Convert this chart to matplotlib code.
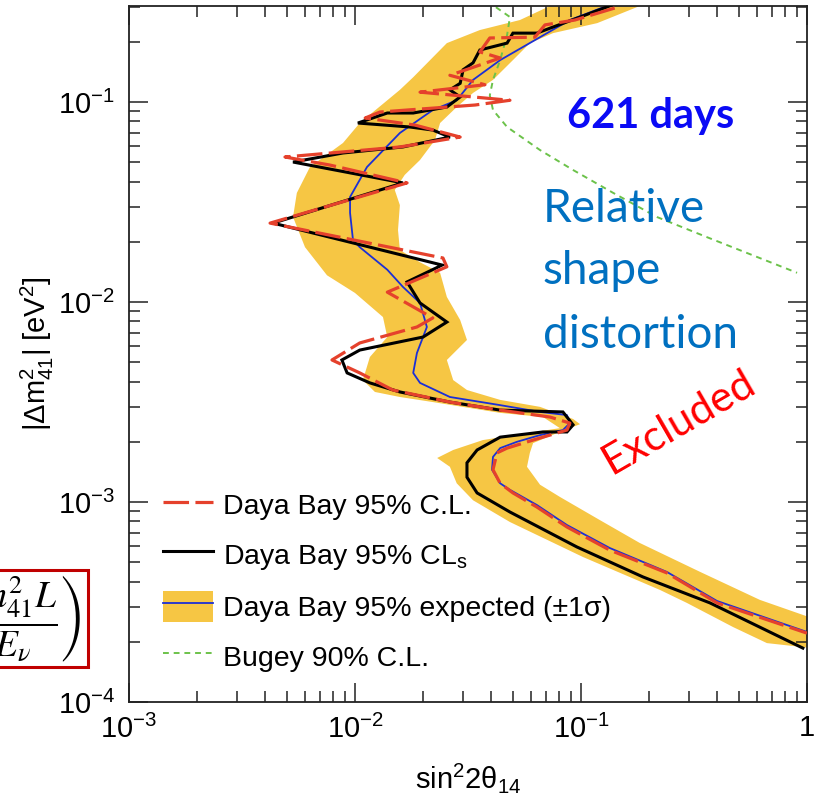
import matplotlib
matplotlib.use("Agg")
import matplotlib.pyplot as plt
from matplotlib.lines import Line2D
from matplotlib.patches import Patch, Rectangle
from matplotlib.legend_handler import HandlerTuple

plt.rcParams['font.family'] = ['Liberation Sans', 'DejaVu Sans']
plt.rcParams['mathtext.fontset'] = 'custom'
plt.rcParams['mathtext.rm'] = 'Liberation Sans'
plt.rcParams['mathtext.it'] = 'Liberation Sans:italic'
plt.rcParams['mathtext.bf'] = 'Liberation Sans:bold'

# ---------------- data ----------------
# Daya Bay 95% CLs (black)
cls_sin2 = [0.141, 0.0991, 0.0752, 0.0638, 0.0500, 0.0471, 0.0357, 0.0333, 0.0301, 0.0292,
            0.0263, 0.0292, 0.0255, 0.0181, 0.0139, 0.0103, 0.0175, 0.0221, 0.0263, 0.0163,
            0.00885, 0.00532, 0.0163, 0.00434, 0.0243, 0.0170, 0.0194, 0.0255, 0.0200, 0.0105,
            0.00875, 0.00923, 0.01164, 0.0158, 0.0263, 0.0439, 0.0832, 0.0923, 0.0867, 0.0679,
            0.0439, 0.0347, 0.0313, 0.0313, 0.0347, 0.0485, 0.0959, 0.188, 0.372, 0.959]
cls_dm2 = [0.309, 0.266, 0.237, 0.221, 0.221, 0.197, 0.182, 0.157, 0.145, 0.124,
           0.115, 0.106, 0.0944, 0.0881, 0.0881, 0.0785, 0.0750, 0.0724, 0.0668, 0.0596,
           0.0556, 0.0501, 0.0394, 0.0248, 0.0153, 0.0126, 0.00989, 0.00794, 0.00668, 0.00575,
           0.00513, 0.00442, 0.00394, 0.00355, 0.00316, 0.00288, 0.00282, 0.00243, 0.00224, 0.00224,
           0.00211, 0.00182, 0.00157, 0.00133, 0.00111, 0.000891, 0.000596, 0.000422, 0.000313, 0.000186]

# Daya Bay 95% C.L. (red dashed)
cl_sin2 = [0.141, 0.0940, 0.0693, 0.0625, 0.0395, 0.0357, 0.0439, 0.0263, 0.0376, 0.0194,
           0.0485, 0.0340, 0.0129, 0.0111, 0.0184, 0.0292, 0.0158, 0.00490, 0.00774, 0.0170,
           0.00421, 0.0245, 0.0255, 0.0139, 0.0221, 0.0188, 0.0105, 0.00791, 0.0105, 0.0147,
           0.0263, 0.0439, 0.0729, 0.0893, 0.0867, 0.0614, 0.0471, 0.0425, 0.0408, 0.0439,
           0.0500, 0.0638, 0.0867, 0.134, 0.240, 0.400, 1.0]
cl_dm2 = [0.295, 0.257, 0.243, 0.211, 0.209, 0.178, 0.166, 0.136, 0.122, 0.112,
          0.102, 0.0966, 0.0891, 0.0832, 0.0767, 0.0668, 0.0596, 0.0531, 0.0484, 0.0394,
          0.0248, 0.0166, 0.0150, 0.0112, 0.00832, 0.00750, 0.00624, 0.00513, 0.00442, 0.00363,
          0.00316, 0.00288, 0.00266, 0.00248, 0.00229, 0.00204, 0.00186, 0.00176, 0.00145, 0.00124,
          0.00111, 0.000944, 0.000750, 0.000575, 0.000442, 0.000313, 0.000221]

# Daya Bay 95% expected (blue median)
exp_sin2 = [0.130, 0.0893, 0.0659, 0.0439, 0.0333, 0.0282, 0.0221, 0.0158, 0.0113, 0.00951,
            0.00951, 0.00980, 0.0105, 0.0139, 0.0163, 0.0194, 0.0208, 0.0188, 0.0181, 0.0194,
            0.0263, 0.0439, 0.0659, 0.0867, 0.0893, 0.0832, 0.0659, 0.0521, 0.0439, 0.0408,
            0.0404, 0.0439, 0.0485, 0.0638, 0.0867, 0.134, 0.240, 0.400, 1.0]
exp_dm2 = [0.302, 0.257, 0.211, 0.162, 0.129, 0.102, 0.0912, 0.0700, 0.0473, 0.0335,
           0.0279, 0.0204, 0.0188, 0.0145, 0.0119, 0.00989, 0.00750, 0.00556, 0.00442, 0.00394,
           0.00335, 0.00305, 0.00282, 0.00272, 0.00248, 0.00229, 0.00216, 0.00200, 0.00186, 0.00168,
           0.00145, 0.00124, 0.00115, 0.000966, 0.000767, 0.000589, 0.000447, 0.000320, 0.000224]

# +-1 sigma band: outer edge (top -> bottom) then inner edge (bottom -> top)
band_a_sin2 = [0.0807, 0.0729, 0.0537, 0.0357, 0.0255, 0.0215, 0.0181, 0.0158, 0.0139, 0.0105,
               0.00885, 0.00632, 0.00553, 0.00532, 0.00601, 0.00752, 0.0100, 0.0133, 0.0139, 0.01164,
               0.01084, 0.01225, 0.0158, 0.0221, 0.0439, 0.0679, 0.0807, 0.0577, 0.0368, 0.0272,
               0.0231, 0.0263, 0.0282, 0.0333, 0.0485, 0.102, 0.224, 0.294, 0.471, 0.665, 1.05]
band_a_dm2 = [0.324, 0.302, 0.257, 0.229, 0.197, 0.162, 0.133, 0.115, 0.102, 0.0785,
              0.0624, 0.0473, 0.0351, 0.0266, 0.0188, 0.0136, 0.0111, 0.00841, 0.00668, 0.00531,
              0.00407, 0.00355, 0.00335, 0.00316, 0.00279, 0.00266, 0.00234, 0.00221, 0.00204, 0.00182,
              0.00166, 0.00150, 0.00124, 0.00102, 0.000794, 0.000531, 0.000363, 0.000313, 0.000237, 0.000197, 0.000186]
band_b_sin2 = [1.05, 0.619, 0.337, 0.182, 0.121, 0.0807, 0.0659, 0.0577, 0.0594, 0.0614,
               0.0783, 0.0991, 0.0923, 0.0659, 0.0439, 0.0313, 0.0272, 0.0255, 0.0313, 0.0292,
               0.0255, 0.0238, 0.0194, 0.0158, 0.0155, 0.0158, 0.0150, 0.0166, 0.0194, 0.0226,
               0.0238, 0.0282, 0.0333, 0.0408, 0.0500, 0.0594, 0.0752, 0.118, 0.182, 0.224]
band_b_dm2 = [0.000263, 0.000324, 0.000447, 0.000624, 0.000813, 0.00106, 0.00122, 0.00150, 0.00176, 0.00197,
              0.00221, 0.00245, 0.00260, 0.00299, 0.00324, 0.00363, 0.00407, 0.00513, 0.00646, 0.00813,
              0.0106, 0.0140, 0.0158, 0.0182, 0.0229, 0.0305, 0.0363, 0.0432, 0.0513, 0.0646,
              0.0785, 0.0944, 0.111, 0.129, 0.162, 0.197, 0.221, 0.248, 0.302, 0.324]

# Bugey 90% C.L. (green dashed)
bugey_sin2 = [0.0380, 0.0408, 0.0485, 0.0471, 0.0439, 0.0408, 0.0395, 0.0408, 0.0471, 0.0659,
              0.0923, 0.139, 0.217, 0.361, 0.601, 0.904]
bugey_dm2 = [0.35, 0.305, 0.266, 0.216, 0.162, 0.129, 0.108, 0.0912, 0.0750, 0.0575,
             0.0457, 0.0351, 0.0266, 0.0211, 0.0168, 0.0140]

x_ticks = [1e-3, 1e-2, 1e-1, 1]
x_tick_labels = [r"$10^{-3}$", r"$10^{-2}$", r"$10^{-1}$", "1"]
y_ticks = [1e-4, 1e-3, 1e-2, 1e-1]
y_tick_labels = [r"$10^{-4}$", r"$10^{-3}$", r"$10^{-2}$", r"$10^{-1}$"]

labels = ["Daya Bay 95% C.L.", r"Daya Bay 95% CL$_\mathregular{s}$",
          "Daya Bay 95% expected (±1σ)", "Bugey 90% C.L."]

# ---------------- styling ----------------
YELLOW = "#f6c644"
RED = "#e5412c"
BLUE = "#1b2fd6"
GREEN = "#6cc24a"

fig = plt.figure(figsize=(8.19, 8.01), dpi=100)
ax = fig.add_axes([0.1575, 0.1236, 0.8278, 0.8689])
ax.set_xscale('log')
ax.set_yscale('log')
ax.set_xlim(1e-3, 1)
ax.set_ylim(1e-4, 0.302)

ax.fill(band_a_sin2 + band_b_sin2, band_a_dm2 + band_b_dm2, color=YELLOW, lw=0, zorder=1)
ax.plot(exp_sin2, exp_dm2, color=BLUE, lw=1.3, zorder=2)
ax.plot(cls_sin2, cls_dm2, color='black', lw=2.2, zorder=3, solid_joinstyle='miter')
ax.plot(cl_sin2, cl_dm2, color=RED, lw=2.3, dashes=(8, 2), zorder=4)
ax.plot(bugey_sin2, bugey_dm2, color=GREEN, lw=1.4, dashes=(3, 2.5), zorder=2)

ax.set_xticks(x_ticks)
ax.set_xticklabels(x_tick_labels)
ax.set_yticks(y_ticks)
ax.set_yticklabels(y_tick_labels)
ax.tick_params(which='both', direction='in', top=True, right=True, width=1.1, color='#222222')
ax.tick_params(which='major', length=14, labelsize=21)
ax.tick_params(axis='x', which='major', pad=9)
ax.tick_params(axis='y', which='major', pad=10)
ax.tick_params(which='minor', length=8)
for s in ax.spines.values():
    s.set_linewidth(1.3)
    s.set_color('#222222')

fig.text(468 / 819, 1 - 788 / 801, "sin$^2$2θ$_{14}$", ha='center', va='baseline', fontsize=21)
fig.text(37 / 819, 1 - 354 / 801, r"|Δm$^2_{41}$| [eV$^2$]", ha='center', va='center',
         rotation=90, fontsize=21)

h_red = Line2D([], [], color=RED, lw=2.3, dashes=(8, 2))
h_black = Line2D([], [], color='black', lw=2.2)
h_band = Patch(facecolor=YELLOW, lw=0)
h_blue = Line2D([], [], color=BLUE, lw=1.3)
h_green = Line2D([], [], color=GREEN, lw=1.4, dashes=(3, 2.5))
ax.legend([h_red, h_black, (h_band, h_blue), h_green], labels,
          handler_map={tuple: HandlerTuple(ndivide=1)},
          loc='upper left', bbox_to_anchor=(0.050, 0.306), frameon=False,
          fontsize=20.5, handlelength=1.76, handleheight=1.3, labelspacing=0.66,
          handletextpad=0.35, borderpad=0, borderaxespad=0)

# slide annotations
fig.text(651 / 819, 1 - 128 / 801, "621 days", color="#0a0af5", fontsize=30,
         fontweight='bold', family='Lato', ha='center', va='baseline')
for txt, yb in zip(["Relative", "shape", "distortion"], [222, 284, 348]):
    fig.text(543 / 819, 1 - yb / 801, txt, color="#0070c0", fontsize=33,
             family='Lato', ha='left', va='baseline')
fig.text(678 / 819, 1 - 422 / 801, "Excluded", color="#ff0000", fontsize=30.5,
         family='Lato', ha='center', va='center', rotation=30)

# partially visible formula box at left edge (cut off, as on the slide)
fig.patches.append(Rectangle((-0.05, 1 - 667 / 801), 0.05 + 88 / 819, 97 / 801,
                             transform=fig.transFigure, facecolor='white',
                             edgecolor='#c00000', lw=2.2, zorder=5))
fig.text(81 / 819, 1 - 619 / 801, r"$\left(\dfrac{\Delta m_{41}^{2}L}{4E_{\nu}}\right)$",
         math_fontfamily='stix', fontsize=27, ha='right', va='center', zorder=6)

fig.savefig("out.png", dpi=100)
